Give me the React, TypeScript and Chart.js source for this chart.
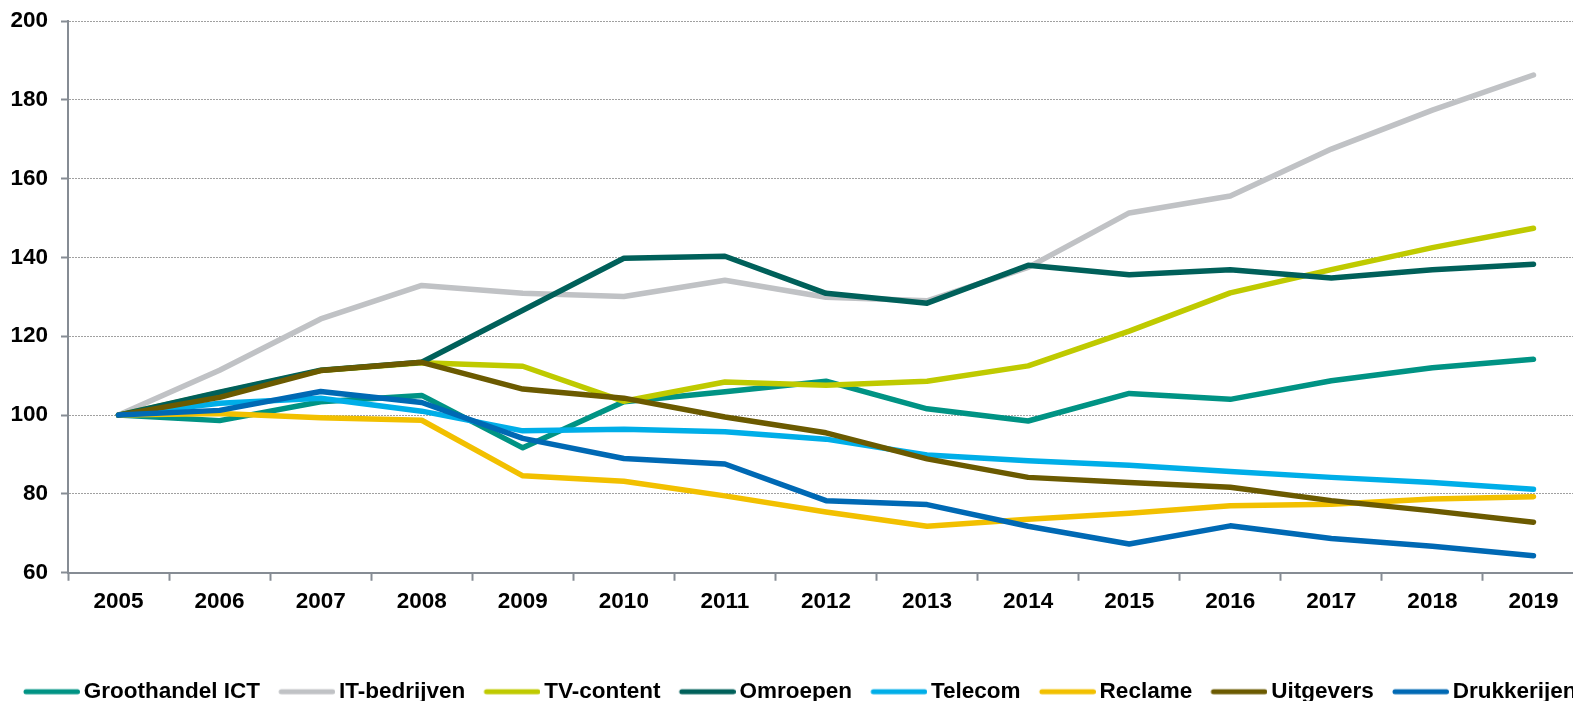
import React, { useEffect, useRef } from "react";
import { Chart, registerables } from "chart.js";

Chart.register(...registerables);

const years = ["2005","2006","2007","2008","2009","2010","2011","2012","2013","2014","2015","2016","2017","2018","2019"];

const groothandelICT = [100, 98.6, 103.4, 105.0, 91.7, 103.4, 105.9, 108.6, 101.6, 98.5, 105.5, 104.0, 108.7, 112.0, 114.2];
const itBedrijven = [100, 111.4, 124.4, 132.9, 130.9, 130.1, 134.2, 129.9, 129.0, 137.5, 151.3, 155.6, 167.5, 177.4, 186.3];
const tvContent = [100, 105.7, 111.3, 113.3, 112.4, 103.5, 108.4, 107.6, 108.6, 112.5, 121.3, 131.0, 136.9, 142.5, 147.4];
const omroepen = [100, 105.8, 111.4, 113.4, 126.6, 139.8, 140.3, 130.9, 128.4, 138.0, 135.6, 136.9, 134.8, 136.9, 138.3];
const telecom = [100, 103.0, 104.3, 101.0, 96.0, 96.4, 95.8, 93.9, 89.9, 88.4, 87.3, 85.7, 84.2, 82.9, 81.2];
const reclame = [100, 100.4, 99.3, 98.7, 84.6, 83.2, 79.5, 75.4, 71.8, 73.6, 75.1, 77.0, 77.4, 78.7, 79.3];
const uitgevers = [100, 104.5, 111.3, 113.4, 106.6, 104.3, 99.5, 95.5, 88.9, 84.2, 82.9, 81.7, 78.3, 75.7, 72.8];
const drukkerijen = [100, 101.2, 106.0, 103.2, 94.1, 89.0, 87.6, 78.3, 77.3, 71.8, 67.3, 71.9, 68.7, 66.7, 64.3];

const seriesNames = ["Groothandel ICT", "IT-bedrijven", "TV-content", "Omroepen", "Telecom", "Reclame", "Uitgevers", "Drukkerijen"];
const seriesValues = [groothandelICT, itBedrijven, tvContent, omroepen, telecom, reclame, uitgevers, drukkerijen];
const seriesColors = ["#009384", "#c0c2c5", "#bfca00", "#00605a", "#00aee8", "#f2c000", "#6b5a00", "#0069b4"];

const yMin = 60;
const yMax = 200;
const yStep = 20;

const FONT = "'Liberation Sans', Arial, Helvetica, sans-serif";
const FONT_SIZE = 22.5;
const AXIS_GRAY = "#868c94";
const LINE_W = 5.5;

// legend swatch: a rounded line drawn into a small offscreen canvas
function makeSwatch(color: string): HTMLCanvasElement {
  const c = document.createElement("canvas");
  c.width = 64;
  c.height = 10;
  const ctx = c.getContext("2d")!;
  ctx.strokeStyle = color;
  ctx.lineWidth = 5;
  ctx.lineCap = "round";
  ctx.beginPath();
  ctx.moveTo(10, 5);
  ctx.lineTo(61.5, 5);
  ctx.stroke();
  return c;
}

export default function App() {
  const canvasRef = useRef<HTMLCanvasElement | null>(null);

  useEffect(() => {
    if (!canvasRef.current) return;
    const n = seriesNames.length;
    const swatches = seriesColors.map(makeSwatch);
    const chart = new Chart(canvasRef.current, {
      type: "line",
      data: {
        labels: years,
        datasets: seriesNames.map((name, i) => ({
          label: name,
          data: seriesValues[i],
          borderColor: seriesColors[i],
          backgroundColor: seriesColors[i],
          borderWidth: LINE_W,
          borderCapStyle: "round",
          borderJoinStyle: "round",
          pointRadius: 0,
          pointHoverRadius: 0,
          tension: 0,
          fill: false,
          order: n - i,
          yAxisID: "y",
        })),
      },
      options: {
        responsive: false,
        animation: false,
        events: [],
        layout: { padding: { top: 21, left: 0, right: 0, bottom: 0 } },
        font: { family: FONT, weight: "bold", size: FONT_SIZE },
        plugins: {
          tooltip: { enabled: false },
          legend: {
            display: true,
            position: "bottom",
            align: "center",
            labels: {
              usePointStyle: true,
              pointStyleWidth: 49,
              padding: 18.75,
              color: "#000",
              font: { family: FONT, weight: "bold", size: FONT_SIZE },
              generateLabels: (c: any) =>
                c.data.datasets.map((ds: any, i: number) => ({
                  text: ds.label,
                  fillStyle: ds.borderColor,
                  strokeStyle: ds.borderColor,
                  lineWidth: 0,
                  pointStyle: swatches[i],
                  hidden: false,
                  datasetIndex: i,
                  fontColor: "#000",
                })),
            },
          },
        },
        scales: {
          x: {
            type: "category",
            offset: true,
            afterFit: (s: any) => { s.height = 89; },
            grid: {
              display: true,
              offset: true,
              drawOnChartArea: false,
              drawTicks: true,
              tickLength: 8,
              tickColor: AXIS_GRAY,
              tickWidth: 2,
              color: AXIS_GRAY,
            },
            border: { display: true, color: AXIS_GRAY, width: 2 },
            ticks: {
              color: "#000",
              padding: 8,
              autoSkip: false,
              maxRotation: 0,
              font: { family: FONT, weight: "bold", size: FONT_SIZE },
            },
          },
          y: {
            type: "linear",
            position: "left",
            min: yMin,
            max: yMax,
            afterFit: (s: any) => {
              s.width = 68;
              s.paddingTop = 0;
              s.paddingBottom = 0;
            },
            grid: {
              display: true,
              color: "#a0a0a0",
              lineWidth: 1,
              drawTicks: true,
              tickLength: 7,
              tickColor: AXIS_GRAY,
              tickWidth: 2,
              tickBorderDash: [],
            },
            border: { display: true, color: AXIS_GRAY, width: 2, dash: [2, 1] },
            ticks: {
              stepSize: yStep,
              color: "#000",
              padding: 13,
              font: { family: FONT, weight: "bold", size: FONT_SIZE },
            },
          },
          yR: {
            type: "linear",
            position: "right",
            min: yMin,
            max: yMax,
            display: true,
            afterFit: (s: any) => {
              s.width = 16;
              s.paddingTop = 0;
              s.paddingBottom = 0;
            },
            grid: { display: false, drawTicks: false },
            border: { display: false },
            ticks: { display: false },
          },
        },
      },
    } as any);
    return () => chart.destroy();
  }, []);

  return (
    <div style={{ position: "fixed", left: 0, top: 0, width: "100vw", height: "100vh", overflow: "hidden", background: "#fff" }}>
      <canvas ref={canvasRef} width={1600} height={713} style={{ display: "block", width: 1600, height: 713 }} />
    </div>
  );
}
